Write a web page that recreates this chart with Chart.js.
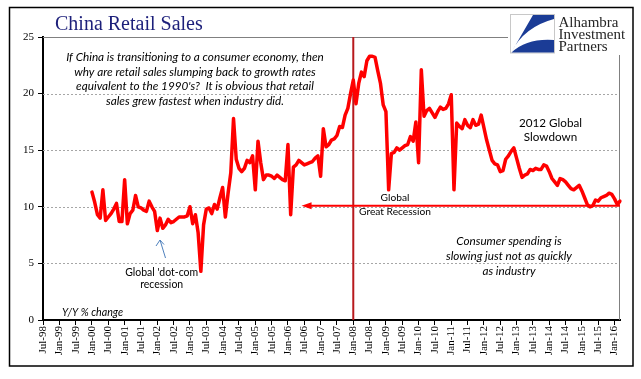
<!DOCTYPE html>
<html><head><meta charset="utf-8">
<script src="https://cdn.jsdelivr.net/npm/chart.js@4/dist/chart.umd.min.js"></script>
<style>html,body{margin:0;padding:0;background:#fff;}canvas{display:block}</style>
</head><body>
<canvas id="c" width="641" height="379"></canvas>
<script>
// ---------- data ----------
const monthNames = ['Jan','Feb','Mar','Apr','May','Jun','Jul','Aug','Sep','Oct','Nov','Dec'];
const categories = [];
for (let y = 1998; y <= 2016; y++) {
  for (let m = 0; m < 12; m++) {
    if (y === 1998 && m < 6) continue;
    if (y === 2016 && m > 2) continue;
    categories.push(monthNames[m] + '-' + String(y % 100).padStart(2, '0'));
  }
}
const seriesStart = 'Jan-00';
// China retail sales, Y/Y % change, monthly Jan-00 .. Mar-16
const retailSales = [
  11.3, 10.4, 9.3, 9.0, 11.5, 8.8, 9.1, 9.4, 9.8, 10.3, 8.7, 8.7,      // 2000
  12.4, 8.5, 9.4, 9.7, 11.0, 10.0, 9.9, 9.7, 9.6, 10.5, 10.0, 9.6,     // 2001
  7.9, 9.0, 8.1, 8.4, 8.9, 8.6, 8.7, 8.9, 9.1, 9.1, 9.1, 9.2,          // 2002
  10.0, 8.5, 9.3, 7.7, 4.3, 8.4, 9.8, 9.9, 9.4, 10.2, 9.8, 10.8,       // 2003
  11.7, 9.1, 11.2, 13.0, 17.8, 14.2, 13.4, 13.1, 13.4, 14.1, 13.9, 14.5, // 2004
  11.5, 15.8, 13.9, 12.4, 12.8, 12.8, 12.7, 12.5, 12.8, 12.6, 12.4, 12.3, // 2005
  15.5, 9.3, 13.5, 13.7, 14.1, 13.9, 13.7, 13.8, 13.9, 14.0, 14.3, 14.5,  // 2006
  12.7, 16.9, 15.3, 15.5, 15.9, 16.0, 16.3, 17.1, 17.0, 18.1, 18.7, 20.0, // 2007
  21.2, 19.1, 20.9, 21.9, 21.5, 22.9, 23.3, 23.3, 23.2, 22.0, 20.9, 19.0, // 2008
  18.4, 11.5, 14.7, 14.8, 15.2, 15.0, 15.2, 15.4, 15.5, 16.2, 15.8, 17.5, // 2009
  13.9, 22.1, 18.0, 18.5, 18.7, 18.3, 17.9, 18.4, 18.8, 18.6, 18.7, 19.1, // 2010
  19.9, 11.5, 17.4, 17.1, 16.9, 17.7, 17.2, 17.0, 17.7, 17.2, 17.3, 18.1, // 2011
  17.0, 15.9, 15.0, 14.1, 13.8, 13.7, 13.1, 13.2, 14.2, 14.5, 14.9, 15.2, // 2012
  14.3, 13.4, 12.6, 12.8, 12.9, 13.3, 13.2, 13.4, 13.3, 13.3, 13.7, 13.6, // 2013
  13.1, 12.5, 12.2, 11.9, 12.5, 12.4, 12.2, 11.9, 11.6, 11.5, 11.7, 11.9, // 2014
  11.4, 10.8, 10.2, 10.0, 10.1, 10.6, 10.5, 10.8, 10.9, 11.0, 11.2, 11.1, // 2015
  10.7, 10.2, 10.5                                                      // 2016
];
const yTicks = [0, 5, 10, 15, 20, 25];
const gridValues = [5, 10, 15, 20];
const recessionMonth = 'Jan-08';
const arrowTipMonth = 'Jun-06';
const arrowLevel = 10.1;

// ---------- build ----------
const startIdx = categories.indexOf(seriesStart);
const seriesData = categories.map((c, i) => (i < startIdx || i - startIdx >= retailSales.length) ? null : retailSales[i - startIdx]);

const SERIF = '"Liberation Serif", "Times New Roman", serif';
const SANS = 'Lato, "Open Sans", sans-serif';

function fitFont(ctx, lines, style, family, target) {
  ctx.font = style + ' 20px ' + family;
  let w = 0;
  lines.forEach(l => { w = Math.max(w, ctx.measureText(l).width); });
  return 20 * target / w;
}
function drawBlock(ctx, lines, style, family, target, cx, ys, color) {
  const size = fitFont(ctx, lines, style, family, target);
  ctx.font = style + ' ' + size.toFixed(2) + 'px ' + family;
  ctx.fillStyle = color || '#000';
  ctx.textAlign = 'center';
  ctx.textBaseline = 'middle';
  lines.forEach((l, i) => ctx.fillText(l, cx, ys[i]));
}

const decor = {
  id: 'decor',
  beforeDraw(chart) {
    const ctx = chart.ctx;
    ctx.save();
    ctx.fillStyle = '#fff';
    ctx.fillRect(0, 0, chart.width, chart.height);
    ctx.restore();
  },
  beforeDatasetsDraw(chart) {
    const {ctx, chartArea: a, scales: {x, y}} = chart;
    ctx.save();
    ctx.strokeStyle = '#a6a6a6';
    ctx.lineWidth = 1;
    ctx.setLineDash([2, 2]);
    gridValues.forEach(v => {
      const py = Math.round(y.getPixelForValue(v)) + 0.5;
      ctx.beginPath(); ctx.moveTo(a.left, py); ctx.lineTo(a.right, py); ctx.stroke();
    });
    ctx.setLineDash([]);
    ctx.strokeStyle = '#808080';
    const top = Math.round(y.getPixelForValue(25)) + 0.5;
    ctx.beginPath(); ctx.moveTo(a.left, top); ctx.lineTo(508, top); ctx.stroke();
    ctx.beginPath(); ctx.moveTo(a.right - 0.5, 55); ctx.lineTo(a.right - 0.5, a.bottom); ctx.stroke();
    // recession vertical line
    const rx = x.getPixelForValue(categories.indexOf(recessionMonth));
    ctx.strokeStyle = '#b8191d';
    ctx.lineWidth = 2;
    ctx.beginPath(); ctx.moveTo(rx, a.top); ctx.lineTo(rx, a.bottom); ctx.stroke();
    ctx.restore();
  },
  afterDatasetsDraw(chart) {
    const {ctx, chartArea: a, scales: {x, y}} = chart;
    ctx.save();
    // red arrow
    const ay = y.getPixelForValue(arrowLevel);
    const ax = x.getPixelForValue(categories.indexOf(arrowTipMonth));
    ctx.strokeStyle = '#ff0000';
    ctx.fillStyle = '#ff0000';
    ctx.lineWidth = 2;
    ctx.beginPath(); ctx.moveTo(ax + 6, ay); ctx.lineTo(a.right, ay); ctx.stroke();
    ctx.beginPath(); ctx.moveTo(ax, ay); ctx.lineTo(ax + 10, ay - 3.5); ctx.lineTo(ax + 10, ay + 3.5); ctx.closePath(); ctx.fill();

    // blue pointer arrow
    ctx.strokeStyle = '#4f81bd';
    ctx.lineWidth = 1;
    ctx.beginPath(); ctx.moveTo(165.5, 258); ctx.lineTo(160, 240); ctx.stroke();
    ctx.beginPath(); ctx.moveTo(156, 246); ctx.lineTo(160, 240); ctx.lineTo(164, 244.5); ctx.stroke();

    // annotations
    drawBlock(ctx, ['If China is transitioning to a consumer economy, then',
      'why are retail sales slumping back to growth rates',
      "equivalent to the 1990's?  It is obvious that retail",
      'sales grew fastest when industry did.'], 'italic', SANS, 258, 195, [57.5, 72, 86.7, 101]);
    drawBlock(ctx, ['2012 Global', 'Slowdown'], 'normal', SANS, 63, 550.5, [123, 137.7]);
    drawBlock(ctx, ['Global', 'Great Recession'], 'normal', SANS, 72, 395, [198, 211.7]);
    drawBlock(ctx, ['Consumer spending is', 'slowing just not as quickly', 'as industry'], 'italic', SANS, 126, 509, [241, 256, 271]);
    drawBlock(ctx, ["Global 'dot-com", 'recession'], 'normal', SANS, 73, 161.7, [272.3, 285]);
    const ys = fitFont(ctx, ['Y/Y % change'], 'italic', SANS, 61);
    ctx.font = 'italic ' + ys.toFixed(2) + 'px ' + SANS;
    ctx.textAlign = 'left'; ctx.textBaseline = 'middle'; ctx.fillStyle = '#000';
    ctx.fillText('Y/Y % change', 62, 313);

    // title
    ctx.font = '20px ' + SERIF;
    ctx.fillStyle = '#1c1f7a';
    ctx.textAlign = 'left'; ctx.textBaseline = 'alphabetic';
    ctx.fillText('China Retail Sales', 55, 30);

    // logo
    ctx.fillStyle = '#fff';
    ctx.fillRect(510, 14, 44, 39);
    ctx.strokeStyle = '#c8c8c8'; ctx.lineWidth = 1;
    ctx.strokeRect(510.5, 14.5, 44, 38.5);
    ctx.fillStyle = '#1b3c96';
    ctx.beginPath();
    ctx.moveTo(533, 15); ctx.lineTo(554, 15); ctx.lineTo(554, 19);
    ctx.quadraticCurveTo(524, 27, 511.5, 52); ctx.closePath(); ctx.fill();
    ctx.beginPath();
    ctx.moveTo(511.5, 52.5); ctx.quadraticCurveTo(527, 38, 554, 40); ctx.lineTo(554, 52.5); ctx.closePath(); ctx.fill();
    ctx.font = '15px ' + SERIF;
    ctx.fillStyle = '#262626';
    ctx.fillText('Alhambra', 558.5, 26.5);
    ctx.fillText('Investment', 558.5, 38.5);
    ctx.fillText('Partners', 558.5, 50.5);

    // outer frame
    ctx.strokeStyle = '#000'; ctx.lineWidth = 1.5;
    ctx.strokeRect(9.5, 7.5, 623.5, 358.5);
    ctx.restore();
  }
};

new Chart(document.getElementById('c'), {
  type: 'line',
  data: {
    labels: categories,
    datasets: [{
      label: 'China Retail Sales',
      data: seriesData,
      borderColor: '#ff0000',
      borderWidth: 3.5,
      pointRadius: 0,
      tension: 0,
      spanGaps: false,
      borderJoinStyle: 'round',
      borderCapStyle: 'round'
    }]
  },
  options: {
    responsive: false,
    animation: false,
    devicePixelRatio: 1,
    layout: {padding: {left: 0, top: 37, right: 21, bottom: 0}},
    plugins: {legend: {display: false}, title: {display: false}, tooltip: {enabled: false}},
    scales: {
      x: {
        type: 'category',
        offset: false,
        grid: {
          drawOnChartArea: false, drawTicks: true, tickLength: 5, lineWidth: 1,
          tickColor: c => (c.index % 6 === 0 ? '#000' : 'rgba(0,0,0,0)')
        },
        border: {color: '#000', width: 2},
        ticks: {
          autoSkip: false, maxRotation: 90, minRotation: 90, padding: 1,
          color: '#000', font: {family: SERIF, size: 11},
          callback: (v, i) => (i % 6 === 0 ? categories[i] : '')
        },
        afterFit: s => { s.height = 59; }
      },
      y: {
        min: 0, max: 25,
        afterBuildTicks: s => { s.ticks = yTicks.map(v => ({value: v})); },
        grid: {drawOnChartArea: false, drawTicks: true, tickLength: 5, tickColor: '#000'},
        border: {color: '#000', width: 2},
        ticks: {color: '#000', font: {family: SERIF, size: 11}, padding: 4},
        afterFit: s => { s.width = 43; }
      }
    }
  },
  plugins: [decor]
});
</script>
</body></html>
